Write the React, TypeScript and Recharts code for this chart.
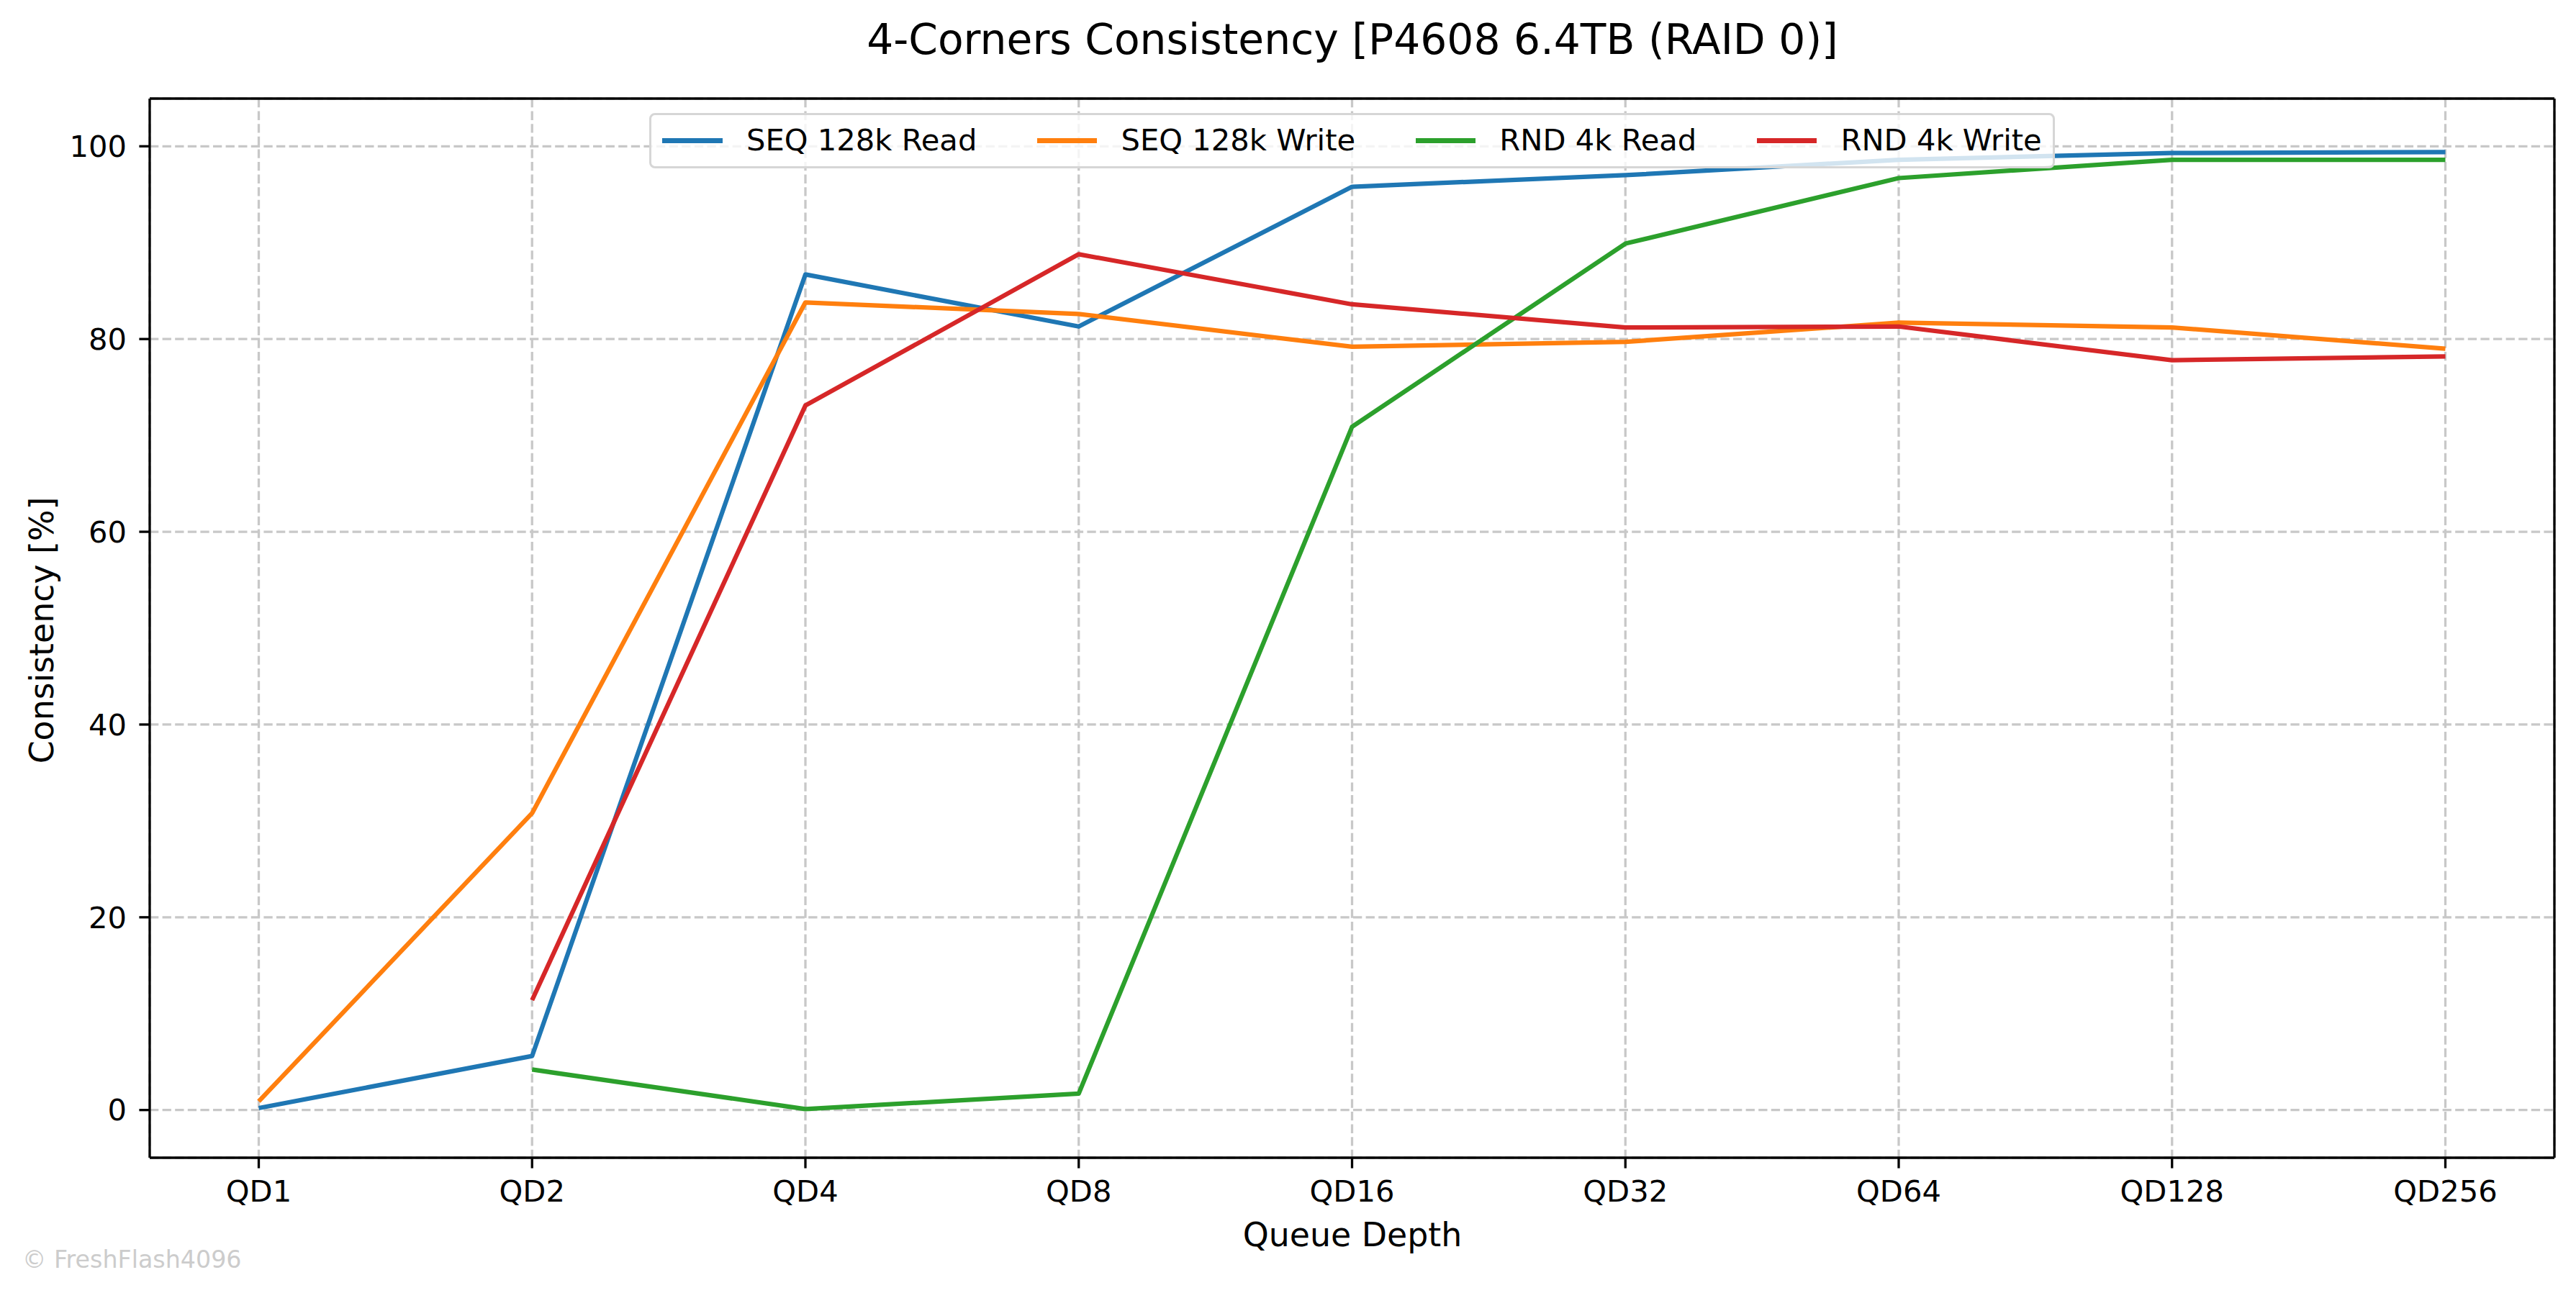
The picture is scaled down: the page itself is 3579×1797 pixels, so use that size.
import { LineChart, Line, XAxis, YAxis, CartesianGrid, Legend } from 'recharts';

const categories = ['QD1', 'QD2', 'QD4', 'QD8', 'QD16', 'QD32', 'QD64', 'QD128', 'QD256'];
const seqRead = [0.2, 5.6, 86.7, 81.3, 95.8, 97.0, 98.6, 99.3, 99.4];
const seqWrite = [0.9, 30.8, 83.8, 82.6, 79.2, 79.7, 81.7, 81.2, 79.0];
const rndRead = [null, 4.2, 0.1, 1.7, 70.9, 89.9, 96.7, 98.6, 98.6];
const rndWrite = [null, 11.4, 73.1, 88.8, 83.6, 81.2, 81.3, 77.8, 78.2];
const yTicks = [0, 20, 40, 60, 80, 100];

const series = [
  { key: 'seqRead', name: 'SEQ 128k Read', color: '#1f77b4' },
  { key: 'seqWrite', name: 'SEQ 128k Write', color: '#ff7f0e' },
  { key: 'rndRead', name: 'RND 4k Read', color: '#2ca02c' },
  { key: 'rndWrite', name: 'RND 4k Write', color: '#d62728' },
];

const data = categories.map((qd, i) => ({
  qd,
  seqRead: seqRead[i],
  seqWrite: seqWrite[i],
  rndRead: rndRead[i],
  rndWrite: rndWrite[i],
}));

const W = 3579;
const H = 1797;
const FONT = '"DejaVu Sans", sans-serif';
const TICK_FS = 41.67;
const AXIS_COLOR = '#000';
const Y_DOMAIN = [-4.95, 104.95];

// matplotlib-ish legend: handle 2em, pad 0.8em, column spacing 2em
function LegendBox() {
  return (
    <div style={{ display: 'flex', justifyContent: 'center' }}>
      <div
        style={{
          display: 'inline-flex',
          alignItems: 'center',
          boxSizing: 'border-box',
          height: 77,
          padding: '0 15px',
          background: 'rgba(255,255,255,0.8)',
          border: '3.3px solid #d6d6d6',
          borderRadius: 8,
          fontFamily: FONT,
          fontSize: TICK_FS,
          color: '#000',
          whiteSpace: 'nowrap',
        }}
      >
        {series.map((s, i) => (
          <div key={s.key} style={{ display: 'flex', alignItems: 'center', marginLeft: i === 0 ? 0 : 83.4 }}>
            <span style={{ display: 'inline-block', width: 83.4, height: 6.25, background: s.color, marginRight: 33.4 }} />
            <span style={{ lineHeight: 1, position: 'relative', top: -1 }}>{s.name}</span>
          </div>
        ))}
      </div>
    </div>
  );
}

export default function App() {
  return (
    <div style={{ position: 'absolute', left: 0, top: 0, width: W, height: H, background: '#fff', fontFamily: FONT }}>
      <LineChart width={W} height={H} data={data} margin={{ top: 136, right: 29, bottom: 0, left: 0 }}>
        <CartesianGrid stroke="#c8c8c8" strokeWidth={3.3} strokeDasharray="12.3 5.3" />
        <XAxis
          dataKey="qd"
          height={188}
          padding={{ left: 151.5, right: 151.5 }}
          axisLine={{ stroke: AXIS_COLOR, strokeWidth: 3.3 }}
          tickLine={{ stroke: AXIS_COLOR, strokeWidth: 3.3 }}
          tickSize={14.6}
          tickMargin={16.5}
          tick={{ fill: '#000', fontSize: TICK_FS, fontFamily: FONT }}
          interval={0}
        />
        <XAxis
          xAxisId="top"
          dataKey="qd"
          orientation="top"
          height={1}
          tick={false}
          tickLine={false}
          axisLine={{ stroke: AXIS_COLOR, strokeWidth: 3.3 }}
        />
        <YAxis
          type="number"
          width={208}
          domain={Y_DOMAIN}
          ticks={yTicks}
          allowDataOverflow
          axisLine={{ stroke: AXIS_COLOR, strokeWidth: 3.3 }}
          tickLine={{ stroke: AXIS_COLOR, strokeWidth: 3.3 }}
          tickSize={14.6}
          tickMargin={17.5}
          tick={{ fill: '#000', fontSize: TICK_FS, fontFamily: FONT }}
        />
        <YAxis
          yAxisId="right"
          orientation="right"
          type="number"
          width={1}
          domain={Y_DOMAIN}
          allowDataOverflow
          tick={false}
          tickLine={false}
          axisLine={{ stroke: AXIS_COLOR, strokeWidth: 3.3 }}
        />
        <Legend
          layout="horizontal"
          verticalAlign="middle"
          align="center"
          wrapperStyle={{ left: 208, top: 157, width: 3341, height: 77 }}
          content={() => <LegendBox />}
        />
        {series.map((s) => (
          <Line
            key={s.key}
            type="linear"
            dataKey={s.key}
            name={s.name}
            stroke={s.color}
            strokeWidth={6.25}
            strokeLinejoin="round"
            dot={false}
            activeDot={false}
            isAnimationActive={false}
          />
        ))}
      </LineChart>
      <svg
        width={W}
        height={H}
        style={{ position: 'absolute', left: 0, top: 0, pointerEvents: 'none' }}
        fontFamily={FONT}
      >
        <text x={1879} y={75} textAnchor="middle" fontSize={58.3} fill="#000">
          4-Corners Consistency [P4608 6.4TB (RAID 0)]
        </text>
        <text x={1879} y={1731.5} textAnchor="middle" fontSize={45.8} fill="#000">
          Queue Depth
        </text>
        <text x={74} y={876} textAnchor="middle" fontSize={45.8} fill="#000" transform="rotate(-90 74 876)">
          Consistency [%]
        </text>
        <text x={31} y={1762} fontSize={33.3} fill="#cccccc">
          © FreshFlash4096
        </text>
      </svg>
    </div>
  );
}
